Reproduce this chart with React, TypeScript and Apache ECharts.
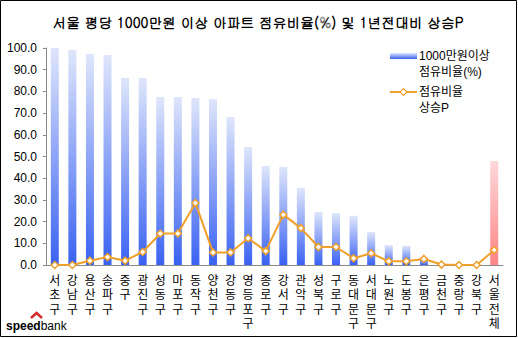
import React, { useEffect, useRef } from "react";
import * as echarts from "echarts";

const categories = [
  "서초구", "강남구", "용산구", "송파구", "중구", "광진구", "성동구", "마포구",
  "동작구", "양천구", "강동구", "영등포구", "종로구", "강서구", "관악구", "성북구",
  "구로구", "동대문구", "서대문구", "노원구", "도봉구", "은평구", "금천구", "중랑구",
  "강북구", "서울전체",
];
const shareValues = [
  100.0, 99.1, 97.2, 96.8, 86.2, 86.2, 77.4, 77.4, 77.0, 76.5, 68.2, 54.4, 45.6,
  45.3, 35.6, 24.4, 24.0, 22.7, 15.2, 9.2, 8.8, 3.6, 0.6, 0.3, 0.2, 47.9,
];
const riseValues = [
  0.0, 0.0, 2.0, 3.7, 2.0, 6.0, 14.5, 14.5, 28.6, 5.8, 5.8, 12.3, 6.4, 23.2, 17.0,
  8.3, 8.3, 3.1, 5.4, 1.7, 1.7, 2.8, 0.2, 0.0, 0.0, 6.9,
];
const yTicks = { min: 0, max: 100, interval: 10 };
const titleText = "서울 평당 1000만원 이상 아파트 점유비율(%) 및 1년전대비 상승P";
const legendBar = "1000만원이상\n점유비율(%)";
const legendLine = "점유비율\n상승P";

const KFONT = "Gulim, Dotum, 'Noto Sans CJK KR', sans-serif";
const LFONT = "'Liberation Sans', 'Noto Sans CJK KR', sans-serif";

const blueGrad = () =>
  new echarts.graphic.LinearGradient(0, 0, 0, 1, [
    { offset: 0, color: "#dfe6fb" },
    { offset: 1, color: "#3a62f2" },
  ]);
const redGrad = () =>
  new echarts.graphic.LinearGradient(0, 0, 0, 1, [
    { offset: 0, color: "#ffd8da" },
    { offset: 1, color: "#ff8486" },
  ]);

export default function App() {
  const ref = useRef<HTMLDivElement>(null);
  useEffect(() => {
    if (!ref.current) return;
    const chart = echarts.init(ref.current, null, { renderer: "svg" });
    const lineColor = "#eea02a";
    chart.setOption({
      animation: false,
      backgroundColor: "#ffffff",
      grid: { left: 46, right: 15, top: 48, bottom: 73 },
      xAxis: {
        type: "category",
        data: categories,
        axisLine: { lineStyle: { color: "#8a8a8a", width: 1 } },
        axisTick: { inside: true, length: 3, lineStyle: { color: "#8a8a8a" } },
        axisLabel: {
          interval: 0,
          margin: 9,
          fontSize: 12,
          lineHeight: 14.3,
          color: "#000",
          fontFamily: LFONT,
          verticalAlign: "top",
          formatter: (v: string) => v.split("").join("\n"),
        },
      },
      yAxis: {
        type: "value",
        min: yTicks.min,
        max: yTicks.max,
        interval: yTicks.interval,
        splitLine: { show: false },
        axisLine: { show: true, lineStyle: { color: "#8a8a8a", width: 1 } },
        axisTick: { show: true, length: 3, lineStyle: { color: "#8a8a8a" } },
        axisLabel: {
          margin: 9,
          fontSize: 12,
          color: "#000",
          fontFamily: "'Liberation Sans', Arial, sans-serif",
          formatter: (v: number) => v.toFixed(1),
        },
      },
      series: [
        {
          type: "bar",
          barWidth: 8,
          data: shareValues.map((v, i) => ({
            value: v,
            itemStyle: {
              color: categories[i] === "서울전체" ? redGrad() : blueGrad(),
            },
          })),
        },
        {
          type: "line",
          data: riseValues,
          z: 5,
          symbol: "diamond",
          symbolSize: 7,
          lineStyle: { color: lineColor, width: 2 },
          itemStyle: { color: "#ffffff", borderColor: lineColor, borderWidth: 1.5 },
        },
      ],
      graphic: [
        {
          type: "rect",
          shape: { x: 0.5, y: 0.5, width: 516, height: 336 },
          style: { fill: "none", stroke: "#000", lineWidth: 1 },
          silent: true,
        },
        {
          type: "text",
          x: 258,
          y: 22,
          style: {
            text: titleText,
            fontSize: 13.8,
            fontWeight: "bold",
            fontFamily: KFONT,
            fill: "#000",
            align: "center",
            verticalAlign: "middle",
          },
        },
        {
          type: "rect",
          shape: { x: 390, y: 53, width: 27, height: 6 },
          style: { fill: blueGrad() },
        },
        {
          type: "text",
          x: 419,
          y: 48,
          style: {
            text: legendBar,
            fontSize: 12,
            lineHeight: 16,
            fontFamily: LFONT,
            fill: "#000",
            align: "left",
            verticalAlign: "top",
          },
        },
        {
          type: "line",
          shape: { x1: 390, y1: 92, x2: 417, y2: 92 },
          style: { stroke: lineColor, lineWidth: 2 },
        },
        {
          type: "polygon",
          shape: { points: [[403.5, 88.5], [407, 92], [403.5, 95.5], [400, 92]] },
          style: { fill: "#fff", stroke: lineColor, lineWidth: 1.2 },
        },
        {
          type: "text",
          x: 419,
          y: 84,
          style: {
            text: legendLine,
            fontSize: 12,
            lineHeight: 16,
            fontFamily: LFONT,
            fill: "#000",
            align: "left",
            verticalAlign: "top",
          },
        },
        {
          type: "polyline",
          shape: { points: [[31, 318], [36.5, 313], [42, 318]] },
          style: { stroke: "#d42b2b", lineWidth: 2.5, fill: "none" },
        },
        {
          type: "text",
          x: 6,
          y: 326,
          style: {
            text: "{a|speed}{b|bank}",
            verticalAlign: "middle",
            align: "left",
            rich: {
              a: {
                fontSize: 12,
                fontWeight: "bold",
                fontFamily: "'Liberation Sans', Arial, sans-serif",
                color: "#2a2a2a",
              },
              b: {
                fontSize: 12,
                fontFamily: "'Liberation Sans', Arial, sans-serif",
                color: "#9a9a9a",
              },
            },
          },
        },
      ],
    });
    return () => chart.dispose();
  }, []);
  return (
    <div
      ref={ref}
      style={{ position: "fixed", left: 0, top: 0, width: 518, height: 338 }}
    />
  );
}
